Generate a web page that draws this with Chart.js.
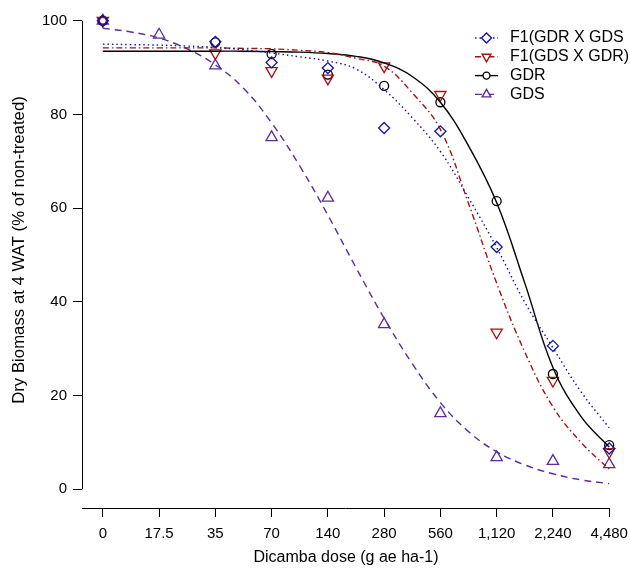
<!DOCTYPE html>
<html>
<head>
<meta charset="utf-8">
<script src="https://cdn.jsdelivr.net/npm/chart.js@4.4.1/dist/chart.umd.min.js"></script>
<style>
  html, body { margin: 0; padding: 0; background: #fff; }
  #wrap { width: 630px; height: 569px; }
</style>
</head>
<body>
<div id="wrap"><canvas id="doseChart" width="630" height="569"></canvas></div>
<script>
/* ─────────────────────────────────────────
   DATA
───────────────────────────────────────── */
const doseLabels = ['0', '17.5', '35', '70', '140', '280', '560', '1,120', '2,240', '4,480'];
const dosePos    = [0, 1, 2, 3, 4, 5, 6, 7, 8, 9];
const yTicks     = [0, 20, 40, 60, 80, 100];

// observed means (null = no point at that dose)
const obsF1GdrGds = [100, null, 95.5, 91.1, 89.9, 77.1, 76.4, 51.7, 30.6, 8.7];
const obsF1GdsGdr = [100, null, 93.1, 89.3, 87.7, 90.3, 84.2, 33.5, 23.2, 8.0];
const obsGdr      = [100, null, 95.4, 92.9, 88.5, 86.1, 82.6, 61.5, 24.6, 9.4];
const obsGds      = [100, 97.0, 90.4, 75.1, 62.2, 35.2, 16.2, 6.8, 6.0, 5.3];

// fitted curves, read every half step along the dose axis
const curvePos    = [0, 0.5, 1, 1.5, 2, 2.5, 3, 3.5, 4, 4.5, 5, 5.5, 6, 6.5, 7, 7.5, 8, 8.5, 9];
const fitF1GdrGds = [95.0, 94.9, 94.8, 94.6, 94.3, 93.8, 93.1, 92.3, 91.4, 89.7, 85.3, 79.3, 72.1, 62.2, 51.6, 39.9, 30.2, 20.8, 13.1];
const fitF1GdsGdr = [94.2, 94.2, 94.2, 94.2, 94.2, 94.1, 94.0, 93.7, 93.2, 92.0, 90.3, 84.6, 76.8, 61.0, 44.0, 29.3, 17.6, 10.0, 4.3];
const fitGdr      = [93.5, 93.5, 93.5, 93.5, 93.5, 93.5, 93.4, 93.3, 93.0, 92.4, 91.0, 88.1, 82.6, 73.3, 61.2, 44.0, 26.0, 15.5, 9.0];
const fitGds      = [98.4, 97.6, 96.3, 94.0, 90.6, 85.6, 78.2, 69.0, 58.5, 47.3, 36.5, 26.8, 18.5, 12.3, 8.0, 5.2, 3.3, 2.0, 1.2];

const xTitle = 'Dicamba dose (g ae ha-1)';
const yTitle = 'Dry Biomass at 4 WAT (% of non-treated)';

/* ─────────────────────────────────────────
   STYLE
───────────────────────────────────────── */
const FONT = "'Liberation Sans', Arial, Helvetica, sans-serif";

const groups = [
  { label: 'F1(GDR X GDS', color: '#1414a0', dash: [1.5, 3],       style: 'rectRot',  rot: 0,   r: 5.5, obs: obsF1GdrGds, fit: fitF1GdrGds },
  { label: 'F1(GDS X GDR)', color: '#a51212', dash: [6, 3, 1.5, 3], style: 'triangle', rot: 180, r: 6.5, obs: obsF1GdsGdr, fit: fitF1GdsGdr },
  { label: 'GDR',           color: '#000000', dash: [],             style: 'circle',   rot: 0,   r: 4.5, obs: obsGdr,      fit: fitGdr },
  { label: 'GDS',           color: '#5b2c9c', dash: [7, 5],         style: 'triangle', rot: 0,   r: 6.5, obs: obsGds,      fit: fitGds }
];

function toXY(xs, ys) {
  const out = [];
  xs.forEach((x, i) => { if (ys[i] !== null) out.push({ x: x, y: ys[i] }); });
  return out;
}

const datasets = [];
groups.forEach(g => {
  datasets.push({
    label: g.label,
    isCurve: true,
    data: toXY(curvePos, g.fit),
    showLine: true,
    borderColor: g.color,
    borderWidth: 1.4,
    borderDash: g.dash,
    tension: 0.4,
    pointRadius: 0,
    pointHoverRadius: 0,
    legendStyle: g.style,
    legendRot: g.rot
  });
});
groups.forEach(g => {
  datasets.push({
    label: g.label + ' obs',
    data: toXY(dosePos, g.obs),
    showLine: false,
    pointStyle: g.style,
    pointRotation: g.rot,
    pointRadius: g.r,
    pointBorderWidth: 1.3,
    pointBorderColor: g.color,
    pointBackgroundColor: 'rgba(0,0,0,0)'
  });
});

/* ─────────────────────────────────────────
   PLUGINS: R-style detached axes, titles + legend
───────────────────────────────────────── */
const rAxes = {
  id: 'rAxes',
  afterDraw(chart) {
    const { ctx, chartArea, scales } = chart;
    ctx.save();
    ctx.strokeStyle = '#000';
    ctx.lineWidth = 1;
    ctx.beginPath();
    const yl = Math.round(chartArea.left) + 0.5;
    ctx.moveTo(yl, scales.y.getPixelForValue(yTicks[0]));
    ctx.lineTo(yl, scales.y.getPixelForValue(yTicks[yTicks.length - 1]));
    const xb = Math.round(chartArea.bottom) + 0.5;
    ctx.moveTo(chartArea.left, xb);
    ctx.lineTo(scales.x.getPixelForValue(dosePos[dosePos.length - 1]), xb);
    ctx.stroke();

    // axis titles
    ctx.fillStyle = '#000';
    ctx.textAlign = 'center';
    ctx.textBaseline = 'middle';
    ctx.font = '16px ' + FONT;
    ctx.fillText(xTitle, 346, 558);
    ctx.translate(19, 250);
    ctx.rotate(-Math.PI / 2);
    ctx.font = '16.8px ' + FONT;
    ctx.fillText(yTitle, 0, 0);
    ctx.restore();
  }
};

const cornerLegend = {
  id: 'cornerLegend',
  afterDatasetsDraw(chart) {
    const { ctx } = chart;
    const x0 = 475, x1 = 498, tx = 510;
    let y = 38;
    ctx.save();
    ctx.font = '16px ' + FONT;
    ctx.textBaseline = 'middle';
    chart.data.datasets.filter(d => d.isCurve).forEach(d => {
      ctx.strokeStyle = d.borderColor;
      ctx.lineWidth = 1.4;
      ctx.setLineDash(d.borderDash);
      ctx.beginPath();
      ctx.moveTo(x0, y);
      ctx.lineTo(x1, y);
      ctx.stroke();
      ctx.setLineDash([]);
      ctx.fillStyle = '#fff';
      Chart.helpers.drawPoint(ctx, {
        pointStyle: d.legendStyle, rotation: d.legendRot, radius: d.legendStyle === 'circle' ? 3.5 : 5, borderWidth: 1.3
      }, (x0 + x1) / 2, y);
      ctx.fillStyle = '#000';
      ctx.fillText(d.label, tx, y);
      y += 18.8;
    });
    ctx.restore();
  }
};

/* ─────────────────────────────────────────
   CHART
───────────────────────────────────────── */
Chart.defaults.font.family = FONT;
Chart.defaults.color = '#000';

new Chart(document.getElementById('doseChart'), {
  type: 'scatter',
  data: { datasets: datasets },
  options: {
    responsive: false,
    animation: false,
    layout: { autoPadding: false, padding: { top: 2, right: 0, left: 0, bottom: 0 } },
    plugins: {
      legend: { display: false },
      tooltip: { enabled: false }
    },
    scales: {
      x: {
        type: 'linear',
        min: -0.37,
        max: 9.37,
        afterBuildTicks: s => { s.ticks = dosePos.map(v => ({ value: v })); },
        afterFit: s => { s.height = 61; s.paddingLeft = 0; s.paddingRight = 0; },
        ticks: {
          autoSkip: false,
          maxRotation: 0,
          padding: 8,
          font: { size: 15 },
          callback: v => doseLabels[dosePos.indexOf(v)]
        },
        grid: { drawOnChartArea: false, drawTicks: true, tickLength: 9, color: '#000' },
        border: { display: false }
      },
      y: {
        type: 'linear',
        min: -4,
        max: 104,
        afterBuildTicks: s => { s.ticks = yTicks.map(v => ({ value: v })); },
        afterFit: s => { s.width = 82; s.paddingTop = 0; s.paddingBottom = 0; },
        ticks: { padding: 6, font: { size: 15 } },
        grid: { drawOnChartArea: false, drawTicks: true, tickLength: 9, color: '#000' },
        border: { display: false }
      }
    }
  },
  plugins: [rAxes, cornerLegend]
});
</script>
</body>
</html>
